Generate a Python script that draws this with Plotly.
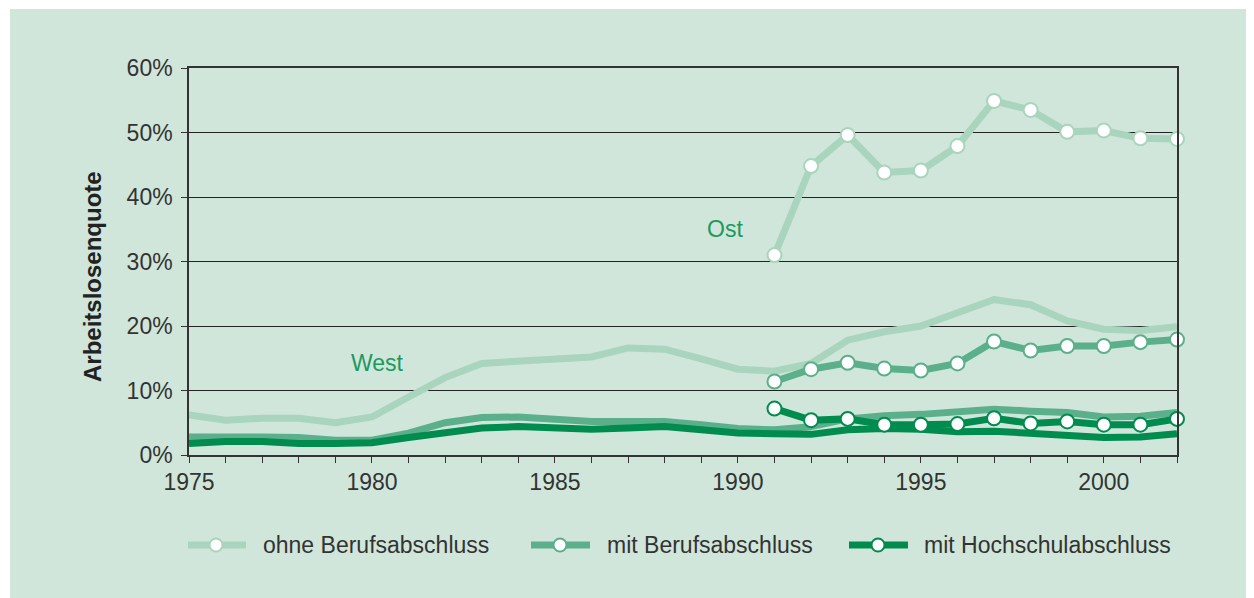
import plotly.graph_objects as go

years_west = list(range(1975, 2003))
years_ost = list(range(1991, 2003))

west_ohne = [6.2, 5.4, 5.7, 5.7, 5.0, 5.9, 9.0, 12.0, 14.2, 14.5, 15.0, 15.2, 16.6, 16.4,
             14.9, 13.3, 13.0, 14.2, 17.8, 19.1, 20.0, 22.1, 24.1, 23.3, 20.8, 19.5, 19.3, 19.9]
west_mit = [2.8, 2.9, 2.8, 2.7, 2.3, 2.3, 3.4, 5.0, 5.8, 5.9, 5.6, 5.2, 5.2, 5.2,
            4.7, 4.1, 3.9, 4.4, 5.6, 6.1, 6.3, 6.7, 7.1, 6.8, 6.6, 5.9, 6.0, 6.6]
west_hoch = [1.8, 2.1, 2.1, 1.8, 1.8, 1.9, 2.7, 3.5, 4.2, 4.4, 4.3, 4.0, 4.2, 4.4,
             3.9, 3.4, 3.3, 3.2, 3.9, 4.1, 4.0, 3.6, 3.7, 3.3, 3.1, 2.7, 2.8, 3.3]

ost_ohne = [31.0, 44.8, 49.6, 43.8, 44.1, 47.9, 54.9, 53.5, 50.1, 50.3, 49.1, 49.0]
ost_mit = [11.4, 13.3, 14.3, 13.4, 13.1, 14.2, 17.6, 16.2, 16.9, 16.9, 17.5, 17.9]
ost_hoch = [7.2, 5.4, 5.6, 4.7, 4.7, 4.8, 5.7, 4.9, 5.2, 4.7, 4.7, 5.6]

series_names = ["ohne Berufsabschluss", "mit Berufsabschluss", "mit Hochschulabschluss"]
colors = ["#a9d4be", "#5bb08b", "#008c4f"]
y_ticks = [0, 10, 20, 30, 40, 50, 60]
y_tick_text = ["0%", "10%", "20%", "30%", "40%", "50%", "60%"]
x_label_years = [1975, 1980, 1985, 1990, 1995, 2000]

# page body margin of 8px shifts the figure; compensate
OFF = 8
W, H = 1254 - OFF, 598 - OFF
L, R, T, B = 189 - OFF, 1177 - OFF, 68 - OFF, 455 - OFF
pw, ph = R - L, B - T

def px(xp):
    return (xp - OFF - L) / pw

def py(yp):
    return (B - (yp - OFF)) / ph

fig = go.Figure()

for ys, c in zip([west_ohne, west_mit, west_hoch], colors):
    fig.add_trace(go.Scatter(x=years_west, y=ys, mode="lines",
                             line=dict(color=c, width=7), showlegend=False,
                             hoverinfo="skip"))
for ys, c in zip([ost_ohne, ost_mit, ost_hoch], colors):
    fig.add_trace(go.Scatter(x=years_ost, y=ys, mode="lines+markers",
                             line=dict(color=c, width=7), cliponaxis=False,
                             marker=dict(size=14, color="white", line=dict(color=c, width=2)),
                             showlegend=False, hoverinfo="skip"))

shapes = [dict(type="rect", xref="paper", yref="paper", layer="below",
               x0=px(10), x1=px(1260), y0=py(604), y1=py(9),
               fillcolor="#d0e6da", line=dict(width=0))]

annotations = [
    dict(x=1980.15, y=14.3, xref="x", yref="y", text="West", showarrow=False,
         font=dict(size=23, color="#1b9a5f", family="Liberation Sans")),
    dict(x=1989.65, y=35.0, xref="x", yref="y", text="Ost", showarrow=False,
         font=dict(size=23, color="#1b9a5f", family="Liberation Sans")),
    dict(x=px(92), y=py(277), xref="paper", yref="paper", text="<b>Arbeitslosenquote</b>",
         textangle=-90, showarrow=False, xanchor="center", yanchor="middle",
         font=dict(size=24, color="#222222", family="Liberation Sans")),
]

# custom legend
leg_y = py(545)
leg_items = [(188, 246, 216, 261), (531, 590, 560, 605), (849, 908, 878, 922)]
for (x0, x1, xm, xt), c, name in zip(leg_items, colors, series_names):
    shapes.append(dict(type="line", xref="paper", yref="paper", x0=px(x0), x1=px(x1),
                       y0=leg_y, y1=leg_y, line=dict(color=c, width=7)))
    r = 6.5
    shapes.append(dict(type="circle", xref="paper", yref="paper",
                       x0=px(xm - r), x1=px(xm + r), y0=py(545 + r), y1=py(545 - r),
                       fillcolor="white", line=dict(color=c, width=2)))
    annotations.append(dict(x=px(xt), y=leg_y, xref="paper", yref="paper", text=name,
                            xanchor="left", yanchor="middle", showarrow=False,
                            font=dict(size=23, color="#333333", family="Liberation Sans")))

fig.update_layout(
    width=W, height=H,
    margin=dict(l=L, r=W - R, t=T, b=H - B),
    paper_bgcolor="white", plot_bgcolor="white",
    shapes=shapes, annotations=annotations,
    font=dict(family="Liberation Sans", size=23, color="#333333"),
    showlegend=False,
)
fig.update_xaxes(range=[1975, 2002], tickvals=years_west,
                 ticktext=[str(y) if y in x_label_years else "" for y in years_west],
                 ticks="outside", ticklen=6, tickcolor="#333333", tickwidth=1.3,
                 showline=True, linecolor="#333333", linewidth=1.5, mirror=True,
                 showgrid=False, zeroline=False)
fig.update_yaxes(range=[0, 60], tickvals=y_ticks, ticktext=y_tick_text,
                 ticks="outside", ticklen=6, tickcolor="#333333", tickwidth=1.3,
                 showline=True, linecolor="#333333", linewidth=1.5, mirror=True,
                 showgrid=True, gridcolor="#222222", gridwidth=1, zeroline=False,
                 ticklabelstandoff=4)

fig.write_html("out.html")
